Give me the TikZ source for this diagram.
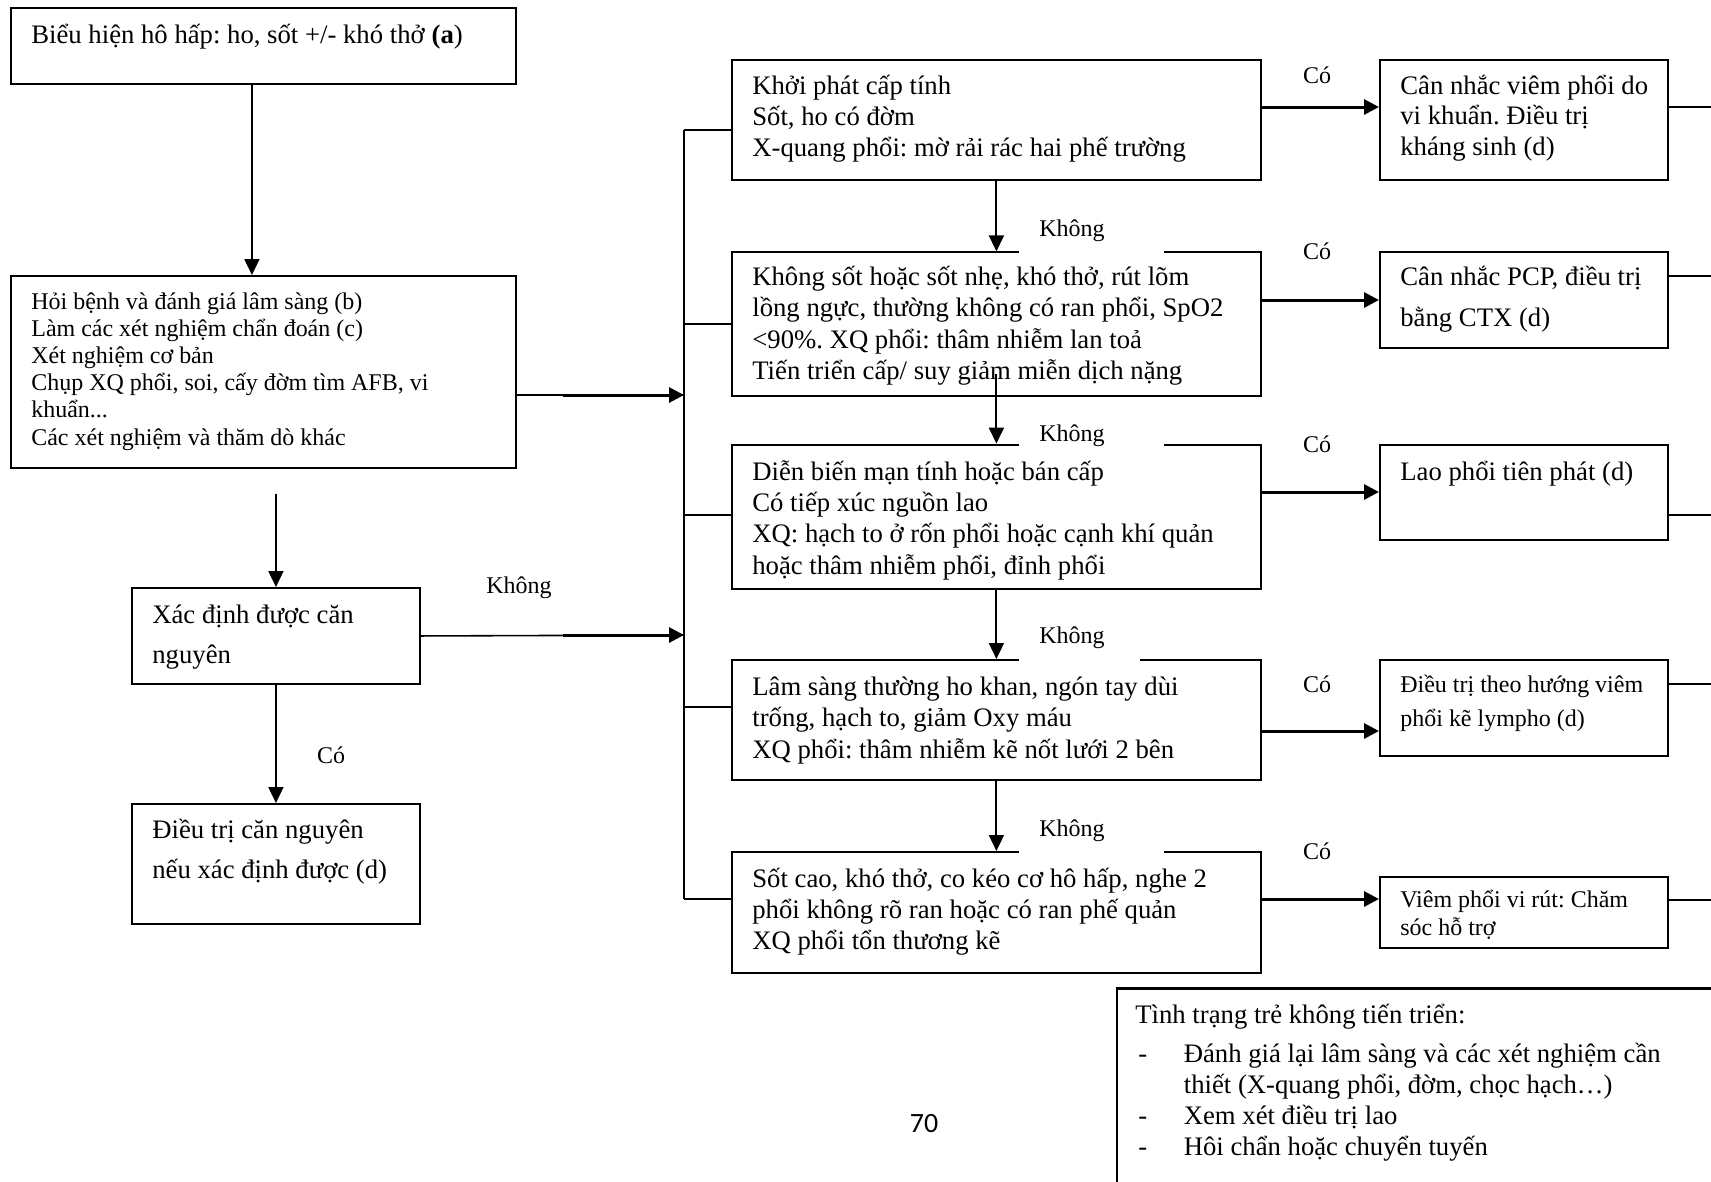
\documentclass[tikz,border=0pt]{standalone}
\usepackage{fontspec}
\setmainfont{Liberation Serif}
\newfontfamily\pagefont{Carlito}
\frenchspacing
\usetikzlibrary{arrows.meta}

\begin{document}
\begin{tikzpicture}[x=0.02cm, y=-0.02cm,
    frame/.style={draw, line width=1.1pt, inner sep=0pt, anchor=north west},
    txt/.style={anchor=base west, inner sep=0pt, align=flush left, text width=#1,
        font=\fontsize{15.2}{17.9}\selectfont},
    txt/.default=10cm,
    lbl/.style={inner sep=0pt, font=\fontsize{13.65}{15.5}\selectfont},
    nolbl/.style={fill=white, anchor=west, inner xsep=0.4cm, inner ysep=0pt,
        text width=2.1cm, minimum height=1cm, align=flush left,
        font=\fontsize{13.65}{15.5}\selectfont},
    down/.style={line width=1.1pt, -{Triangle[length=0.32cm, width=0.3cm]}},
    yes/.style={line width=1.7pt, -{Triangle[length=0.3cm, width=0.3cm]}},
    wire/.style={line width=0.9pt}]

% Page frame
\useasboundingbox (0,0) rectangle (1711,1181);
\clip (0,0) rectangle (1711,1181);

% Left column
\node[frame, minimum width=10.1cm, minimum height=1.52cm] (bieuhien) at (10,7) {};
\node[frame, minimum width=10.1cm, minimum height=3.84cm] (hoibenh) at (10,275) {};
\node[frame, minimum width=5.76cm, minimum height=1.92cm] (xacdinh) at (131,587) {};
\node[frame, minimum width=5.76cm, minimum height=2.4cm] (dieutri) at (131,803) {};

\node[txt=9.6cm] (bieuhien-t) at ([shift={(21,36)}]bieuhien.north west)
    {Biểu hiện hô hấp: ho, sốt +/- khó thở \textbf{(a})};
\node[txt=9.6cm, font=\fontsize{13.65}{15.5}\selectfont] (hoibenh-t)
    at ([shift={(21,34)}]hoibenh.north west)
    {Hỏi bệnh và đánh giá lâm sàng (b)\\
     Làm các xét nghiệm chẩn đoán (c)\\
     Xét nghiệm cơ bản\\
     Chụp XQ phổi, soi, cấy đờm tìm AFB, vi\\
     khuẩn...\\
     Các xét nghiệm và thăm dò khác};
\node[txt=5cm, font=\fontsize{15.2}{22.8}\selectfont] (xacdinh-t)
    at ([shift={(21,36)}]xacdinh.north west) {Xác định được căn\\ nguyên};
\node[txt=5cm, font=\fontsize{15.2}{22.8}\selectfont] (dieutri-t)
    at ([shift={(21,35)}]dieutri.north west) {Điều trị căn nguyên\\ nếu xác định được (d)};

% Middle column
\node[frame, minimum width=10.58cm, minimum height=2.41cm] (m1) at (731,58.6) {};
\node[frame, minimum width=10.58cm, minimum height=2.88cm] (m2) at (731,251.4) {};
\node[frame, minimum width=10.58cm, minimum height=2.89cm] (m3) at (731,443.6) {};
\node[frame, minimum width=10.58cm, minimum height=2.4cm] (m4) at (731,659) {};
\node[frame, minimum width=10.58cm, minimum height=2.42cm] (m5) at (731,851) {};

\node[txt] (m1-t) at ([shift={(21,35.4)}]m1.north west)
    {Khởi phát cấp tính\\
     Sốt, ho có đờm\\
     X-quang phổi: mờ rải rác hai phế trường};
\node[txt] (m2-t) at ([shift={(21,34)}]m2.north west)
    {Không sốt hoặc sốt nhẹ, khó thở, rút lõm\\
     lồng ngực, thường không có ran phổi, SpO2\\
     <90\%. XQ phổi: thâm nhiễm lan toả\\
     Tiến triển cấp/ suy giảm miễn dịch nặng};
\node[txt] (m3-t) at ([shift={(21,36.4)}]m3.north west)
    {Diễn biến mạn tính hoặc bán cấp\\
     Có tiếp xúc nguồn lao\\
     XQ: hạch to ở rốn phổi hoặc cạnh khí quản\\
     hoặc thâm nhiễm phổi, đỉnh phổi};
\node[txt] (m4-t) at ([shift={(21,36.5)}]m4.north west)
    {Lâm sàng thường ho khan, ngón tay dùi\\
     trống, hạch to, giảm Oxy máu\\
     XQ phổi: thâm nhiễm kẽ nốt lưới 2 bên};
\node[txt] (m5-t) at ([shift={(21,36)}]m5.north west)
    {Sốt cao, khó thở, co kéo cơ hô hấp, nghe 2\\
     phổi không rõ ran hoặc có ran phế quản\\
     XQ phổi tổn thương kẽ};

% Right column
\node[frame, minimum width=5.76cm, minimum height=2.41cm] (r1) at (1379,58.6) {};
\node[frame, minimum width=5.76cm, minimum height=1.93cm] (r2) at (1379,250.7) {};
\node[frame, minimum width=5.76cm, minimum height=1.91cm] (r3) at (1379,443.6) {};
\node[frame, minimum width=5.76cm, minimum height=1.92cm] (r4) at (1379,659) {};
\node[frame, minimum width=5.76cm, minimum height=1.43cm] (r5) at (1379,875.6) {};

\node[txt=5.2cm, font=\fontsize{15.2}{17.4}\selectfont] (r1-t)
    at ([shift={(21,35.4)}]r1.north west)
    {Cân nhắc viêm phổi do\\ vi khuẩn. Điều trị\\ kháng sinh (d)};
\node[txt=5.2cm, font=\fontsize{15.2}{23.3}\selectfont] (r2-t)
    at ([shift={(21,34.8)}]r2.north west)
    {Cân nhắc PCP, điều trị\\ bằng CTX (d)};
\node[txt=5.2cm] (r3-t) at ([shift={(21,36.4)}]r3.north west)
    {Lao phổi tiên phát (d)};
\node[txt=5.2cm, font=\fontsize{13.65}{19.9}\selectfont] (r4-t)
    at ([shift={(21,33)}]r4.north west)
    {Điều trị theo hướng viêm\\ phổi kẽ lympho (d)};
\node[txt=5.2cm, font=\fontsize{13.65}{15.7}\selectfont] (r5-t)
    at ([shift={(21,32)}]r5.north west)
    {Viêm phổi vi rút: Chăm\\ sóc hỗ trợ};

% Bottom box
\node[frame, minimum width=14cm, minimum height=6cm] (tinhtrang) at (1116,988.5) {};
\draw[line width=1.6pt] (tinhtrang.north west) -- (tinhtrang.north east);
\node[txt=11.5cm, font=\fontsize{15.2}{17.6}\selectfont] (tinhtrang-t)
    at ([shift={(19,35)}]tinhtrang.north west)
    {Tình trạng trẻ không tiến triển:\\[0.17cm]
     \makebox[0.97cm][l]{\hspace{0.06cm}-}Đánh giá lại lâm sàng và các xét nghiệm cần\\
     \hspace*{0.97cm}thiết (X-quang phổi, đờm, chọc hạch…)\\
     \makebox[0.97cm][l]{\hspace{0.06cm}-}Xem xét điều trị lao\\
     \makebox[0.97cm][l]{\hspace{0.06cm}-}Hôi chẩn hoặc chuyển tuyến};

% Left arrows
\draw[down] ([xshift=-0.23cm]bieuhien.south) -- ([xshift=-0.23cm]hoibenh.north);
\draw[down] (xacdinh.north |- hoibenh.south) ++(0,25) -- (xacdinh.north);
\draw[down] (xacdinh.south) -- (dieutri.north);

% Collector bar
\coordinate (bar1) at (684,130);
\coordinate (bar2) at (684,324);
\coordinate (bar3) at (684,515);
\coordinate (bar4) at (684,707);
\coordinate (bar5) at (684,899);
\coordinate (jb) at (684,395);
\coordinate (jc) at (684,635);
\draw[wire] (bar1) -- (bar5);
\foreach \i in {1,...,5}
    \draw[wire] (bar\i) -- (m\i.west |- bar\i);
\draw[wire] (hoibenh.east |- jb) -- (jb);
\draw[yes] ([xshift=-2.42cm]jb) -- (jb);
\draw[wire] (xacdinh.east) -- (jc);
\draw[yes] ([xshift=-2.42cm]jc) -- (jc);

% Middle arrows
\draw[down] (m1.south) -- (m2.north);
\draw[down] ([yshift=0.47cm]m2.south) -- (m3.north);
\draw[down] (m3.south) -- (m4.north);
\draw[down] (m4.south) -- (m5.north);

% Yes arrows and outgoing lines
\foreach \i/\ya/\yb in {1/107/107, 2/300/276, 3/492/515, 4/731/684, 5/899/900} {
    \draw[yes] (m\i.east |- 0,\ya) -- (r\i.west |- 0,\ya);
    \draw[wire] (r\i.east |- 0,\yb) -- ++(60,0);
}

% Labels
\foreach \y [count=\i] in {75,251,444,684,851}
    \node[lbl] (co\i) at (1317,\y) {Có};
\node[lbl] (co0) at (331,755) {Có};
\node[lbl] (khong0) at (519,588) {Không};
\node[nolbl] (khong1) at (1019,230.5) {Không};
\node[nolbl, minimum height=0.7cm] (khong2) at (1019,436) {Không};
\node[nolbl, text width=1.62cm] (khong3) at (1019,638) {Không};
\node[nolbl] (khong4) at (1019,831) {Không};

% Page number
\node[inner sep=0pt, font=\pagefont\fontsize{15.9}{18}\selectfont] (trang) at (924,1124) {70};

\end{tikzpicture}
\end{document}
